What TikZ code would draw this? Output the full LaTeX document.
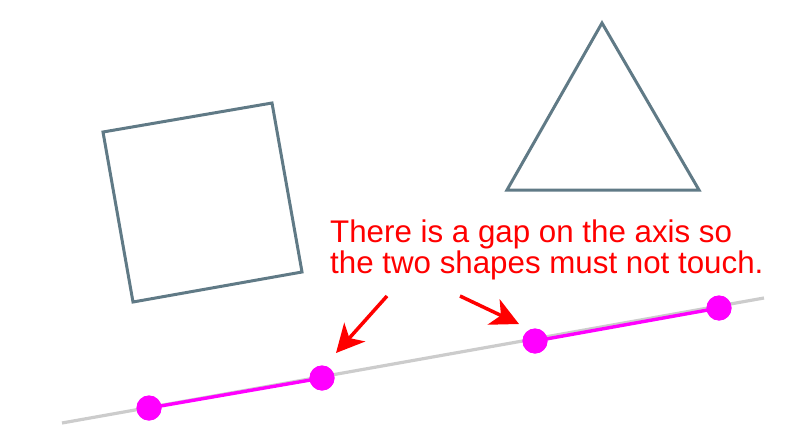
\documentclass[tikz,border=0pt]{standalone}
\usepackage{fontspec}
\setmainfont{Liberation Sans}
\usetikzlibrary{arrows.meta}
\definecolor{slate}{RGB}{96,122,134}
\definecolor{axisgray}{RGB}{204,204,204}
\definecolor{magentadot}{RGB}{255,0,255}

\tikzset{
	shapeline/.style={draw=slate, line width=3pt, line join=miter},
	axisline/.style={draw=axisgray, line width=3.2pt},
	projline/.style={draw=magentadot, line width=3.4pt},
	dot/.style={shape=circle, fill=magentadot, inner sep=0pt, minimum size=25pt},
	pointer/.style={draw=red, line width=3.5pt, -{Stealth[length=28pt, width=28pt, inset=8pt]}}
}

\begin{document}
\begin{tikzpicture}[x=1pt, y=-1pt]
	\useasboundingbox (0,0) rectangle (802,444);

	% square
	\draw[shapeline] (103,132) -- (272,103) -- (302,272) -- (133,302) -- cycle;
	% triangle
	\draw[shapeline] (602,23) -- (699,190) -- (507,190) -- cycle;

	% axis
	\coordinate (axisstart) at (62,423);
	\coordinate (axisend) at (764,298);
	\path[axisline] (axisstart) -- (axisend);

	% projections
	\node[dot] (sqa) at (149,408) {};
	\node[dot] (sqb) at (322,378) {};
	\node[dot] (tra) at (535,341) {};
	\node[dot] (trb) at (719,308) {};
	\path[projline] (sqa.center) -- (sqb.center);
	\path[projline] (tra.center) -- (trb.center);
	\node[dot] at (sqa) {};
	\node[dot] at (sqb) {};
	\node[dot] at (tra) {};
	\node[dot] at (trb) {};

	% note
	\node[anchor=base west, align=left, text=red, inner sep=0pt,
		font=\fontsize{31.3}{31}\selectfont] (note) at (330,273)
		{There is a gap on the axis so\\the two shapes must not touch.};

	\coordinate (tailleft) at (387,296);
	\coordinate (tailright) at (460,296);
	\draw[pointer] (tailleft) -- (336,353);
	\draw[pointer] (tailright) -- (519,324);
\end{tikzpicture}
\end{document}
